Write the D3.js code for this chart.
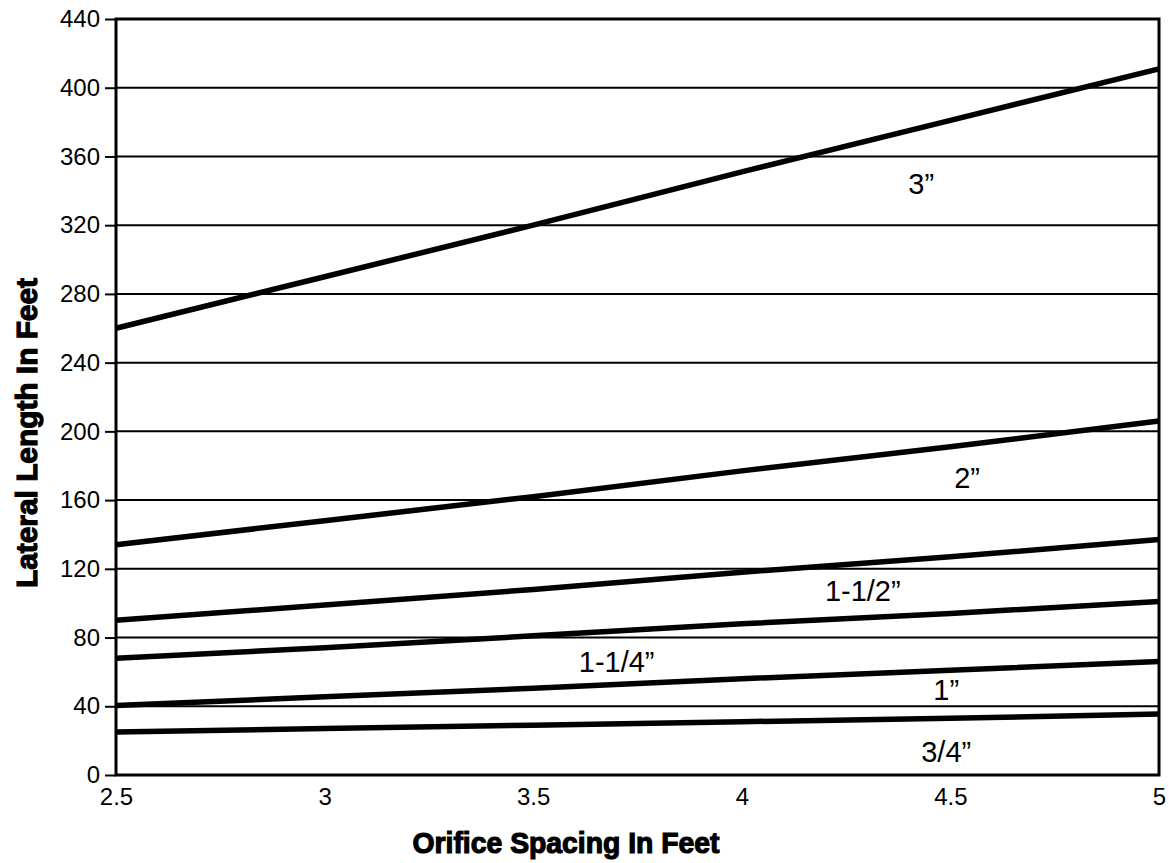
<!DOCTYPE html>
<html><head><meta charset="utf-8">
<script src="https://cdn.jsdelivr.net/npm/d3@7"></script>
<style>body{margin:0;background:#fff}</style>
</head><body>
<svg id="chart" width="1169" height="863"></svg>
<script>
const xTicks = [2.5, 3, 3.5, 4, 4.5, 5];
const yTicks = [0, 40, 80, 120, 160, 200, 240, 280, 320, 360, 400, 440];
const spacing = [2.5, 3, 3.5, 4, 4.5, 5];
const size3 = [260, 290, 320, 351, 381, 411];
const size2 = [134, 148, 162, 177, 191, 206];
const size112 = [90, 99, 108, 118, 127, 137];
const size114 = [68, 74, 81, 88, 94, 101];
const size1 = [40.5, 45.5, 50.5, 56, 61, 66];
const size34 = [25, 27, 29, 31, 33, 35.5];
const seriesNames = ["3\u201D", "2\u201D", "1-1/2\u201D", "1-1/4\u201D", "1\u201D", "3/4\u201D"];
const seriesValues = [size3, size2, size112, size114, size1, size34];
const labelX = [4.43, 4.54, 4.29, 3.70, 4.49, 4.49];
const labelY = [344, 173, 107, 66, 49.5, 13.5];

const svg = d3.select("#chart");
const L = 116, R = 1159, T = 19, B = 775;
const font = "Liberation Sans, Arial, sans-serif";
const x = d3.scaleLinear().domain([2.5, 5]).range([L, R]);
const y = d3.scaleLinear().domain([0, 440]).range([B, T]);

// gridlines
svg.append("g").selectAll("line").data(yTicks.filter(d => d > 0 && d < 440)).join("line")
  .attr("x1", L).attr("x2", R).attr("y1", d => y(d)).attr("y2", d => y(d))
  .attr("stroke", "#000").attr("stroke-width", 2);

// y axis ticks & labels
const yAxis = d3.axisLeft(y).tickValues(yTicks).tickSize(11).tickPadding(5).tickFormat(d3.format("d"));
const gy = svg.append("g").attr("transform", `translate(${L},0)`).call(yAxis);
gy.select(".domain").remove();
gy.selectAll(".tick line").attr("stroke", "#000").attr("stroke-width", 2);
gy.selectAll(".tick text").attr("font-family", font).attr("font-size", 24).attr("fill", "#000");

// x axis
const xAxis = d3.axisBottom(x).tickValues(xTicks).tickSize(0).tickPadding(13).tickFormat(d => d);
const gx = svg.append("g").attr("transform", `translate(0,${B})`).call(xAxis);
gx.select(".domain").remove();
gx.selectAll(".tick text").attr("font-family", font).attr("font-size", 24).attr("fill", "#000");

// series lines
const line = d3.line().x((d, i) => x(spacing[i])).y(d => y(d));
svg.append("g").selectAll("path").data(seriesValues).join("path")
  .attr("d", d => line(d)).attr("fill", "none").attr("stroke", "#000")
  .attr("stroke-width", 5.5).attr("stroke-linecap", "butt");

// frame
svg.append("rect").attr("x", L).attr("y", T).attr("width", R - L).attr("height", B - T)
  .attr("fill", "none").attr("stroke", "#000").attr("stroke-width", 3);

// series labels
svg.append("g").selectAll("text").data(seriesNames).join("text")
  .attr("x", (d, i) => x(labelX[i])).attr("y", (d, i) => y(labelY[i]))
  .attr("text-anchor", "middle").attr("dominant-baseline", "central")
  .attr("font-family", font).attr("font-size", 29)
  .text(d => d);

// axis titles
svg.append("text").attr("x", 566).attr("y", 853)
  .attr("text-anchor", "middle").attr("font-family", font)
  .attr("font-weight", "bold").attr("font-size", 30).attr("textLength", 307)
  .attr("stroke", "#000").attr("stroke-width", 1.2)
  .attr("lengthAdjust", "spacingAndGlyphs").text("Orifice Spacing In Feet");
svg.append("text").attr("transform", "translate(37,433) rotate(-90)")
  .attr("text-anchor", "middle").attr("font-family", font)
  .attr("font-weight", "bold").attr("font-size", 30).attr("textLength", 310)
  .attr("stroke", "#000").attr("stroke-width", 1.2)
  .attr("lengthAdjust", "spacingAndGlyphs").text("Lateral Length In Feet");
</script>
</body></html>
